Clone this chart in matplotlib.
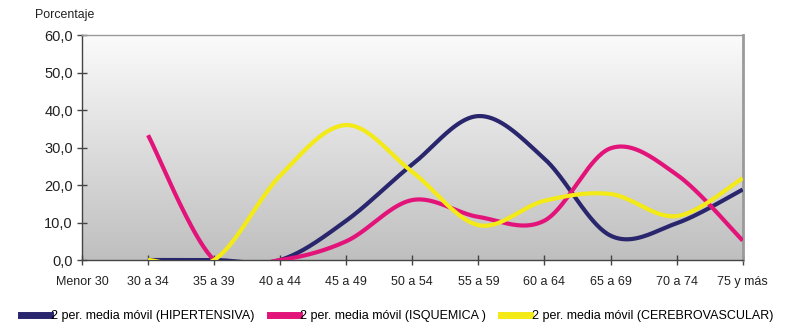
import numpy as np
import matplotlib
matplotlib.use("Agg")
import matplotlib.pyplot as plt
from matplotlib.lines import Line2D

plt.rcParams['font.family'] = ['Liberation Sans', 'DejaVu Sans']

# age groups and 2-period moving averages (percent)
grupos = ['Menor 30', '30 a 34', '35 a 39', '40 a 44', '45 a 49', '50 a 54',
          '55 a 59', '60 a 64', '65 a 69', '70 a 74', '75 y más']
hipertensiva = [np.nan, 0.0, 0.0, 0.0, 10.5, 25.5, 38.4, 27.0, 6.5, 9.8, 18.8]
isquemica = [np.nan, 33.3, 0.0, 0.0, 5.0, 16.0, 11.5, 10.5, 29.8, 22.8, 5.2]
cerebrovascular = [np.nan, 0.0, 0.0, 22.5, 36.0, 23.5, 9.3, 15.8, 17.6, 11.7, 21.8]

series = [
    ('2 per. media móvil (HIPERTENSIVA)', hipertensiva, '#29266e'),
    ('2 per. media móvil (ISQUEMICA )', isquemica, '#e2147a'),
    ('2 per. media móvil (CEREBROVASCULAR)', cerebrovascular, '#f3ea17'),
]


def smooth(x, y, n=40):
    # Catmull-Rom style smoothing like spreadsheet "smoothed line"
    x = np.asarray(x, float)
    y = np.asarray(y, float)
    ok = ~np.isnan(y)
    x, y = x[ok], y[ok]
    px = np.concatenate([[x[0]], x, [x[-1]]])
    py = np.concatenate([[y[0]], y, [y[-1]]])
    xs, ys = [], []
    t = np.linspace(0, 1, n)
    for i in range(1, len(px) - 2):
        p0, p1, p2, p3 = (np.array([px[j], py[j]]) for j in range(i - 1, i + 3))
        c1 = p1 + (p2 - p0) / 6
        c2 = p2 - (p3 - p1) / 6
        b = ((1 - t) ** 3)[:, None] * p1 + (3 * (1 - t) ** 2 * t)[:, None] * c1 \
            + (3 * (1 - t) * t ** 2)[:, None] * c2 + (t ** 3)[:, None] * p2
        xs.append(b[:, 0])
        ys.append(b[:, 1])
    return np.concatenate(xs), np.concatenate(ys)


fig = plt.figure(figsize=(7.96, 3.25), dpi=100)
ax = fig.add_axes([0.103, 0.2, 0.830, 0.692])

x = np.arange(len(grupos))

# gradient background of the plot area: light at top, grey at bottom
grad = np.linspace(0, 1, 256)[:, None]
cmap = matplotlib.colors.LinearSegmentedColormap.from_list('bg', ['#fbfbfb', '#bfbfbf'])
ax.imshow(grad, extent=[0, len(grupos) - 1, 0, 60], origin='upper', aspect='auto',
          cmap=cmap, zorder=0, interpolation='bilinear')
ax.set_xlim(0, len(grupos) - 1)
ax.set_ylim(0, 60)

for nombre, vals, color in series:
    sx, sy = smooth(x, vals)
    ax.plot(sx, sy, color=color, lw=3, solid_capstyle='butt', zorder=3)

ax.set_xticks(x)
ax.set_xticklabels(grupos, fontsize=9, color='#222222')
ax.set_yticks(np.arange(0, 61, 10))
ax.set_yticklabels([f'{v:.1f}'.replace('.', ',') for v in np.arange(0, 61, 10)],
                   fontsize=10.5, color='#222222')
ax.tick_params(axis='both', direction='inout', length=7, width=1, color='#444444', pad=3)
ax.tick_params(axis='x', pad=8)

for s in ['left', 'bottom']:
    ax.spines[s].set_color('#444444')
    ax.spines[s].set_linewidth(1)
ax.spines['top'].set_color('#9a9a9a')
ax.spines['top'].set_linewidth(1)
ax.spines['right'].set_color('#9a9a9a')
ax.spines['right'].set_linewidth(2)

fig.text(0.044, 0.945, 'Porcentaje', fontsize=8.9, color='#222222')

handles = [Line2D([], [], color=c, lw=5) for _, _, c in series]
fig.legend(handles, [n for n, _, _ in series], loc='lower left', ncol=3,
           bbox_to_anchor=(0.012, -0.025), frameon=False, fontsize=9,
           handlelength=2.3, handletextpad=0.15, columnspacing=1.2)

fig.savefig('out.png', dpi=100)
